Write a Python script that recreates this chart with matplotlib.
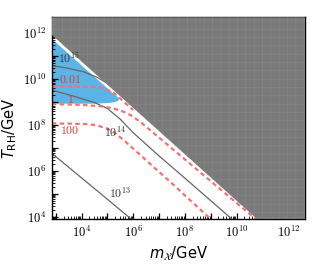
import numpy as np
import matplotlib
matplotlib.use('Agg')
import matplotlib.pyplot as plt
from matplotlib.ticker import FixedLocator, FuncFormatter, NullFormatter

plt.rcParams['mathtext.fontset'] = 'cm'
plt.rcParams['hatch.linewidth'] = 0.4

# curves, stored as log10(m_X/GeV), log10(T_RH/GeV)
# solid contours
c15_lm = [2.85, 3.5, 4.08, 4.6, 5.12, 5.4, 5.8]
c15_lT = [10.59, 10.47, 10.32, 10.08, 9.74, 9.5, 9.1]
c14_lm = [2.85, 3.5, 4.0, 4.5, 5.0, 5.5, 6.0, 7.0, 8.0, 9.0, 10.0]
c14_lT = [9.52, 9.32, 9.15, 8.98, 8.72, 8.25, 7.66, 6.65, 5.68, 4.7, 3.72]
c13_lm = [2.85, 4.0, 5.0, 6.0]
c13_lT = [6.76, 5.69, 4.76, 3.82]
# dashed contours
d001_lm = [2.85, 4.0, 4.73, 5.2, 5.6, 6.0]
d001_lT = [9.70, 9.67, 9.64, 9.45, 9.05, 8.65]
d1_lm = [2.85, 4.0, 4.73, 5.1, 5.5, 5.9, 6.27, 7.0, 8.0, 9.0, 10.0, 10.8]
d1_lT = [8.91, 8.88, 8.82, 8.75, 8.64, 8.43, 8.14, 7.45, 6.5, 5.55, 4.6, 3.85]
d100_lm = [2.85, 3.5, 4.22, 4.6, 4.99, 5.3, 5.63, 6.5, 7.5, 8.5, 9.1]
d100_lT = [8.07, 8.06, 8.04, 7.98, 7.85, 7.64, 7.34, 6.46, 5.45, 4.41, 3.8]
# blue region outline
blue_lm = [2.85, 4.0, 5.0, 5.3, 5.42, 5.45, 5.40, 5.2, 4.9, 4.5, 2.85]
blue_lT = [11.75, 10.6, 9.6, 9.3, 9.2, 9.12, 9.04, 8.98, 8.95, 8.93, 8.93]
# excluded (gray) boundary
gray_lm = [2.85, 10.79]
gray_lT = [11.93, 3.9]

xlim = (7e2, 4.6e12)
ylim = (8e3, 5e12)
x_major = [3, 4, 5, 6, 7, 8, 9, 10, 11, 12]
y_major = [4, 5, 6, 7, 8, 9, 10, 11, 12]

fig = plt.figure(figsize=(3.12, 2.66), dpi=100)
ax = fig.add_axes([0.166, 0.177, 0.8125, 0.758])
ax.set_xscale('log')
ax.set_yscale('log')

def p(a):
    return 10 ** np.array(a, dtype=float)

ax.fill(p(blue_lm), p(blue_lT), color='#5bb3e6', lw=0, zorder=1)

for lm, lT in [(c15_lm, c15_lT), (c14_lm, c14_lT), (c13_lm, c13_lT)]:
    ax.plot(p(lm), p(lT), color='#666666', lw=0.9, zorder=2)
for lm, lT in [(d001_lm, d001_lT), (d1_lm, d1_lT), (d100_lm, d100_lT)]:
    ax.plot(p(lm), p(lT), color='#f47272', lw=1.6, dashes=(2, 1.5), zorder=2)

gx = list(p(gray_lm)) + [xlim[1], xlim[1], xlim[0]]
gy = list(p(gray_lT)) + [ylim[0], ylim[1], ylim[1]]
ax.fill(gx, gy, facecolor='#7a7a7a', edgecolor='#878787', hatch='++', lw=0, zorder=3)

# contour labels
kw = dict(fontsize=8.5, ha='center', va='center', zorder=4)
ax.text(10**3.51, 10**10.91, r'$10^{15}$', color='#333333', **kw)
ax.text(10**5.31, 10**7.70, r'$10^{14}$', color='#333333', **kw)
ax.text(10**5.50, 10**5.04, r'$10^{13}$', color='#333333', **kw)
ax.text(10**3.55, 10**9.99, r'$0.01$', color='#e03535', **kw)
ax.text(10**3.55, 10**9.13, r'$1$', color='#e03535', **kw)
ax.text(10**3.55, 10**7.78, r'$100$', color='#e03535', **kw)

ax.set_xlim(*xlim)
ax.set_ylim(*ylim)

def even_fmt(v, pos):
    e = int(round(np.log10(v)))
    return r'$10^{%d}$' % e if e % 2 == 0 else ''

for axis, majors, lo, hi in [(ax.xaxis, x_major, 2, 13), (ax.yaxis, y_major, 3, 13)]:
    axis.set_major_locator(FixedLocator(p(majors)))
    minors = [k * 10.0**e for e in range(lo, hi) for k in range(2, 10)]
    axis.set_minor_locator(FixedLocator(minors))
    axis.set_major_formatter(FuncFormatter(even_fmt))
    axis.set_minor_formatter(NullFormatter())

ax.tick_params(which='both', direction='in', top=True, right=True, labelsize=9)
ax.tick_params(which='major', length=4, width=0.9, pad=4)
ax.tick_params(which='minor', length=2, width=0.6)
for s in ax.spines.values():
    s.set_linewidth(1.0)

ax.set_xlabel(r'$m_{\mathcal{X}}$/GeV', fontsize=10.5, math_fontfamily='dejavusans')
ax.set_ylabel(r'$T_{\rm RH}$/GeV', fontsize=10.5, math_fontfamily='dejavusans')
ax.yaxis.set_label_coords(-0.13, 0.45)

fig.savefig('out.png', dpi=100)
